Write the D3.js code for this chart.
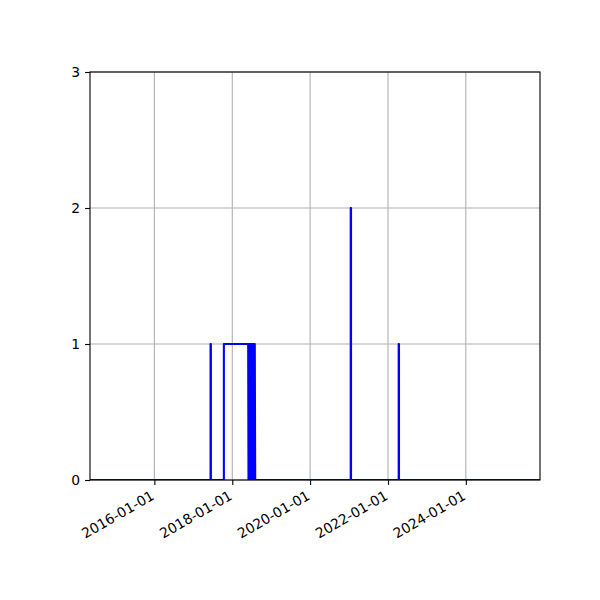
<!DOCTYPE html>
<html>
<head>
<meta charset="utf-8">
<script src="https://cdn.jsdelivr.net/npm/d3@7"></script>
<style>
  body { margin: 0; background: #fff; }
  text { font-family: "DejaVu Sans", sans-serif; font-size: 13.9px; fill: #000; }
</style>
</head>
<body>
<svg id="chart" width="600" height="600"></svg>
<script>
// series points (date, count)
const pointDates = [
  "2014-05-07", "2017-06-11", "2017-06-11", "2017-06-14", "2017-06-14",
  "2017-10-14", "2017-10-14", "2018-05-30",
  "2018-06-02", "2018-06-05", "2018-06-09", "2018-06-13", "2018-06-17",
  "2018-06-21", "2018-06-25", "2018-06-29", "2018-07-03", "2018-07-07",
  "2018-07-11", "2018-07-15", "2018-07-19", "2018-07-23", "2018-07-27",
  "2018-07-31", "2018-08-04",
  "2021-01-16", "2021-01-16", "2021-01-19", "2021-01-19",
  "2022-04-11", "2022-04-11", "2022-04-14", "2022-04-14",
  "2025-11-27"
];
const pointValues = [
  0, 0, 1, 1, 0,
  0, 1, 1,
  0, 1, 0, 1, 0,
  1, 0, 1, 0, 1,
  0, 1, 0, 1, 0,
  1, 0,
  0, 2, 2, 0,
  0, 1, 1, 0,
  0
];
const xTickLabels = ["2016-01-01", "2018-01-01", "2020-01-01", "2022-01-01", "2024-01-01"];
const yTickValues = [0, 1, 2, 3];
const xDomain = ["2014-05-07", "2025-11-27"];

const margin = { top: 72, right: 60, bottom: 120, left: 90 },
  w = 600 - margin.left - margin.right,
  h = 600 - margin.top - margin.bottom;

const parse = d3.utcParse("%Y-%m-%d");
const data = pointDates.map((d, i) => ({ date: parse(d), value: pointValues[i] }));

const svg = d3.select("#chart");
const g = svg.append("g").attr("transform", `translate(${margin.left},${margin.top})`);

const x = d3.scaleUtc().domain(xDomain.map(parse)).range([0, w]);
const y = d3.scaleLinear().domain([0, 3]).range([h, 0]);

// grid
g.selectAll(".xgrid").data(xTickLabels).join("line")
  .attr("x1", d => x(parse(d))).attr("x2", d => x(parse(d)))
  .attr("y1", 0).attr("y2", h)
  .attr("stroke", "#b0b0b0").attr("stroke-width", 1.1);
g.selectAll(".ygrid").data(yTickValues).join("line")
  .attr("x1", 0).attr("x2", w)
  .attr("y1", d => y(d)).attr("y2", d => y(d))
  .attr("stroke", "#b0b0b0").attr("stroke-width", 1.1);

svg.append("defs").append("clipPath").attr("id", "clip")
  .append("rect").attr("width", w).attr("height", h);

const line = d3.line().x(d => x(d.date)).y(d => y(d.value));
g.append("path")
  .datum(data)
  .attr("clip-path", "url(#clip)")
  .attr("fill", "none")
  .attr("stroke", "#0000ff")
  .attr("stroke-width", 2.08)
  .attr("stroke-linejoin", "round")
  .attr("d", line);

// frame
g.append("rect").attr("width", w).attr("height", h)
  .attr("fill", "none").attr("stroke", "#000").attr("stroke-width", 1.1);

// x axis
const xAxis = g.append("g").attr("transform", `translate(0,${h})`)
  .call(d3.axisBottom(x).tickValues(xTickLabels.map(parse))
    .tickFormat(d3.utcFormat("%Y-%m-%d")).tickSize(4.9).tickPadding(0));
xAxis.select(".domain").remove();
xAxis.selectAll(".tick line").attr("stroke", "#000").attr("stroke-width", 1.1);
xAxis.selectAll(".tick text")
  .attr("text-anchor", "end")
  .attr("dy", null)
  .attr("y", 0)
  .attr("transform", "translate(0.4,18.5) rotate(-30)")
  .style("font-size", "13.9px");

// y axis
const yAxis = g.append("g")
  .call(d3.axisLeft(y).tickValues(yTickValues).tickFormat(d3.format("d")).tickSize(4.9).tickPadding(4.9));
yAxis.select(".domain").remove();
yAxis.selectAll(".tick line").attr("stroke", "#000").attr("stroke-width", 1.1);
yAxis.selectAll(".tick text").style("font-size", "13.9px");
</script>
</body>
</html>
